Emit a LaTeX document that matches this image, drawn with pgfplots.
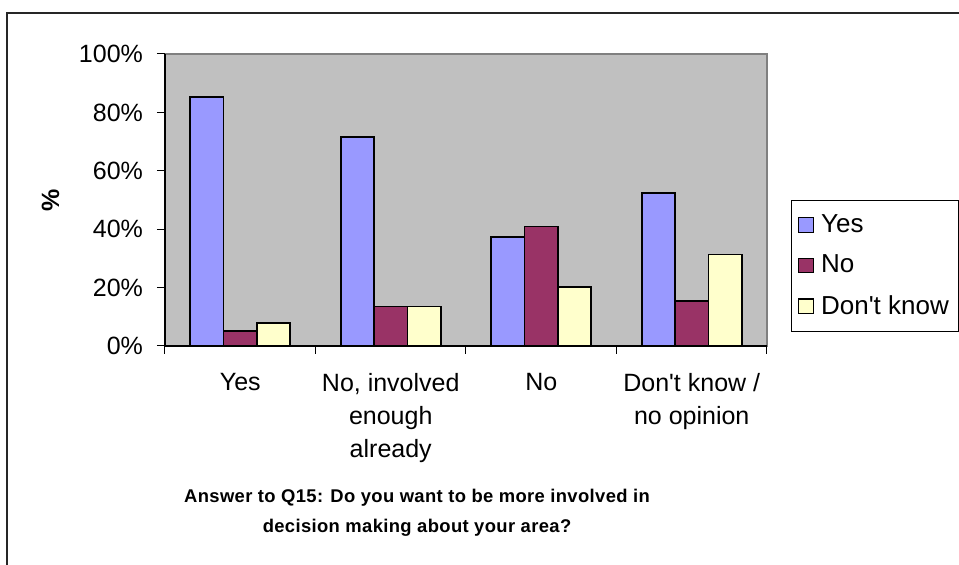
\documentclass[border=0pt]{standalone}
\usepackage{pgfplots}
\pgfplotsset{compat=1.18}
\usepackage{fontspec}
\setmainfont{Liberation Sans}

\definecolor{yescol}{HTML}{9999FF}
\definecolor{nocol}{HTML}{993366}
\definecolor{dkcol}{HTML}{FFFFCC}
\definecolor{plotbg}{HTML}{C0C0C0}

\begin{document}
\begin{tikzpicture}
	% page is 959x565 px, 1px = 0.5pt, y runs downwards as negative
	\useasboundingbox (0,0) rectangle (479.5pt,-282.5pt);
	\draw[line width=1pt, black!85] (3.5pt,-290pt) -- (3.5pt,-6.5pt) -- (490pt,-6.5pt);

	\begin{axis}[
		at={(82.5pt,-173pt)}, anchor=south west,
		scale only axis,
		width=301pt, height=146pt,
		font=\fontsize{12.5}{16}\selectfont,
		/pgf/number format/assume math mode=true,
		ybar=0pt, bar width=0.222,
		xmin=0.5, xmax=4.5,
		ymin=0, ymax=100,
		xtick={1,2,3,4},
		xticklabels={Yes, {No, involved\\enough\\already}, No, {Don\textquotesingle t know /\\no opinion}},
		minor xtick={0.5,1.5,2.5,3.5,4.5},
		major x tick style={draw=none},
		ytick={0,20,40,60,80,100},
		yticklabel={\pgfmathprintnumber{\tick}\%},
		tick align=outside,
		major tick length=4pt, minor tick length=4pt,
		tick style={black, line width=0.5pt},
		xticklabel style={align=center, font=\fontsize{12.5}{16.5}\selectfont, yshift=-6pt},
		yticklabel style={xshift=-3.5pt},
		axis x line*=bottom, axis y line*=left,
		axis line style={-, black, line width=0.6pt},
		axis background/.style={fill=plotbg, draw=gray, line width=0.6pt},
		ylabel={\bfseries\%},
		ylabel style={at={(axis description cs:-0.19,0.5)}, anchor=center},
		legend style={at={(axis description cs:1.04,0.5)}, anchor=north west,
			draw=black, line width=0.5pt, font=\fontsize{13}{15}\selectfont,
			row sep=5.75pt, inner xsep=3pt, inner ysep=5pt, cells={anchor=west}},
		legend image code/.code={
			\draw[#1, line width=0.6pt] (2pt,-3.6pt) rectangle (9.5pt,3.6pt);
			\path (11pt,0pt);},
		every axis plot/.append style={draw=black, line width=0.9pt},
	]
	\addplot[fill=yescol, draw=black] coordinates {(1,85.4) (2,71.7) (3,37.4) (4,52.5)};
	\addplot[fill=nocol, draw=black] coordinates {(1,5.2) (2,13.5) (3,40.9) (4,15.5)};
	\addplot[fill=dkcol, draw=black] coordinates {(1,8.0) (2,13.5) (3,20.3) (4,31.3)};
	\legend{Yes, No, Don\textquotesingle t know\hspace{3pt}}
	\end{axis}

	\node[align=center, font=\fontsize{9.2}{15}\selectfont\bfseries\addfontfeatures{LetterSpace=2}] at (208.5pt,-256.5pt)
		{Answer to Q15: Do you want to be more involved in\\decision making about your area?};
\end{tikzpicture}
\end{document}
